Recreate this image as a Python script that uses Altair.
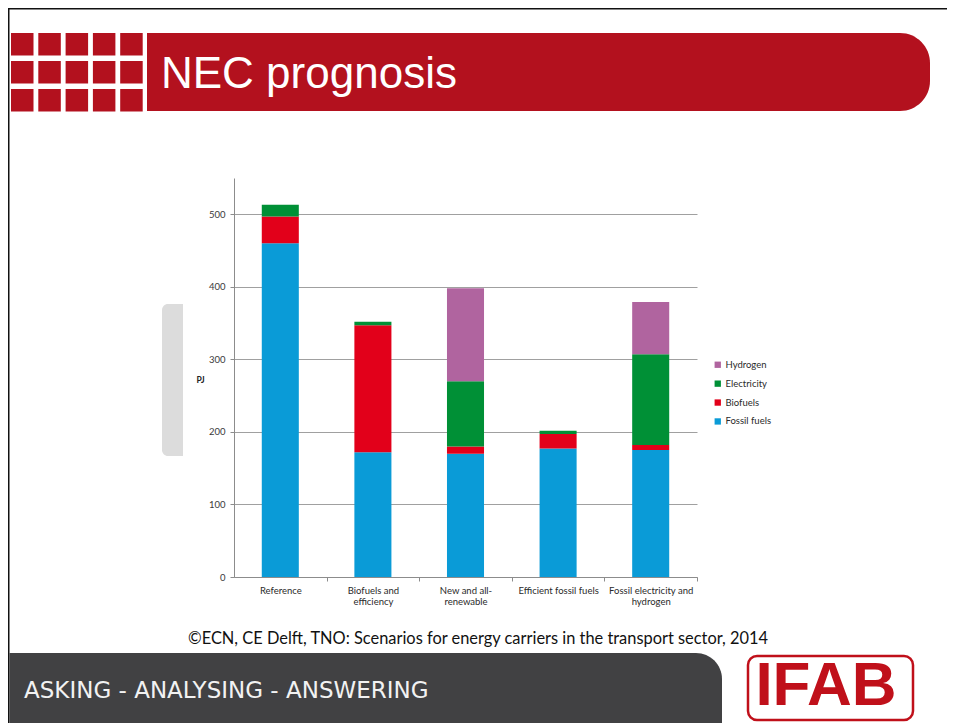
import altair as alt
import pandas as pd

# ---------------- data ----------------
scenarios = ["Reference", "Biofuels and efficiency", "New and all-renewable",
             "Efficient fossil fuels", "Fossil electricity and hydrogen"]
scenario_lines = [["Reference"], ["Biofuels and", "efficiency"], ["New and all-", "renewable"],
                  ["Efficient fossil fuels"], ["Fossil electricity and", "hydrogen"]]
carriers = ["Fossil fuels", "Biofuels", "Electricity", "Hydrogen"]
fossil = [460, 172, 170, 177, 175]
biofuels = [37, 175, 10, 20, 7]
electricity = [16, 5, 90, 4.5, 125]
hydrogen = [0, 0, 128, 0, 72]
colors = {"Hydrogen": "#b0649f", "Electricity": "#009036",
          "Biofuels": "#e2001a", "Fossil fuels": "#0a9bd7"}
legend_order = ["Hydrogen", "Electricity", "Biofuels", "Fossil fuels"]

series = {"Fossil fuels": fossil, "Biofuels": biofuels,
          "Electricity": electricity, "Hydrogen": hydrogen}
rows = []
for ci, c in enumerate(carriers):
    for si, s in enumerate(scenarios):
        rows.append({"scenario": s, "carrier": c, "value": series[c][si], "rank": ci})
df = pd.DataFrame(rows)

# ---------------- layout helpers (page pixel -> plot-local) ----------------
OX, OY = 234, 178          # page position of plot origin
W, H = 463, 399            # plot area
PAD_L, PAD_T = OX - 8, OY - 8
TOTAL_W, TOTAL_H = 939, 715
one = pd.DataFrame({"k": [0]})


def rect(x1, y1, x2, y2, **kw):
    return alt.Chart(one).mark_rect(**kw).encode(
        x=alt.value(x1 - OX), x2=alt.value(x2 - OX),
        y=alt.value(y1 - OY), y2=alt.value(y2 - OY))


def text(t, x, y, **kw):
    return alt.Chart(one).mark_text(text=t, **kw).encode(
        x=alt.value(x - OX), y=alt.value(y - OY))


RED = "#b3111e"
deco = []
# frame lines
deco.append(rect(8, 8, 955, 9.5, color="#111111"))
deco.append(rect(8, 8, 9.5, 723, color="#111111"))
# header squares
for r in range(3):
    for c in range(5):
        x0 = 11 + c * 27.3
        y0 = 33 + r * 28
        deco.append(rect(x0, y0, x0 + 22.5, y0 + 22.5, color=RED))
# header band
deco.append(rect(147, 33, 930, 111, color=RED,
                 cornerRadiusTopRight=30, cornerRadiusBottomRight=30))
deco.append(text("NEC prognosis", 161, 88, align="left", baseline="alphabetic",
                 fontSize=44, font="Liberation Sans", color="white"))
# grey side tab
deco.append(rect(162, 304, 183, 456, color="#dcdcdc",
                 cornerRadiusTopLeft=6, cornerRadiusBottomLeft=6))
# citation
deco.append(text("©ECN, CE Delft, TNO: Scenarios for energy carriers in the transport sector, 2014",
                 478, 644, align="center", baseline="alphabetic",
                 fontSize=16.4, font="Lato", color="#111111"))
# footer
deco.append(rect(9.5, 653, 722, 723, color="#414143", cornerRadiusTopRight=26))
deco.append(text("ASKING - ANALYSING - ANSWERING", 24, 698, align="left", baseline="alphabetic",
                 fontSize=23, font="DejaVu Sans", color="#f2f2f2"))
# logo
deco.append(rect(748, 656, 913, 720, fill="white", stroke="#c0101a",
                 strokeWidth=2.5, cornerRadius=9))
deco.append(text("IFAB", 826, 705, align="center", baseline="alphabetic",
                 fontSize=62, font="Liberation Sans", fontWeight="bold", color="#c0101a"))

# ---------------- chart ----------------
label_map = " : ".join(
    f"datum.label == '{s}' ? {lines!r}" for s, lines in zip(scenarios, scenario_lines)
) + " : datum.label"

step = W / len(scenarios)
FONT = "Lato"
SMALL = 9.5

bars = alt.Chart(df).transform_filter("datum.value > 0").mark_bar().encode(
    x=alt.X("scenario:N", sort=scenarios,
            scale=alt.Scale(paddingInner=0.6, paddingOuter=0.3),
            axis=alt.Axis(title=None, labelAngle=0, labelFontSize=SMALL, labelColor="#2a2a2a",
                          labelFont=FONT, domainColor="#8c8c8c", tickColor="#8c8c8c",
                          tickSize=4, tickOffset=step / 2, labelOffset=-step / 2,
                          labelExpr=label_map, labelLineHeight=11.5, labelPadding=4,
                          labelBaseline="top", grid=False)),
    y=alt.Y("value:Q", stack="zero",
            scale=alt.Scale(domain=[0, 550], nice=False),
            axis=alt.Axis(title="PJ", titleAngle=0, titleFontWeight="bold", titleFontSize=8.5,
                          titleFont=FONT, titleColor="#222222", titleX=-34, titleY=201,
                          titleAlign="center", titleBaseline="middle",
                          values=[0, 100, 200, 300, 400, 500], labelFontSize=SMALL,
                          labelFont=FONT, labelColor="#3a3a3a", labelPadding=5,
                          domainColor="#8c8c8c", tickColor="#8c8c8c", tickSize=4,
                          grid=True, gridColor="#a0a0a0", gridWidth=1)),
    color=alt.Color("carrier:N",
                    scale=alt.Scale(domain=legend_order,
                                    range=[colors[c] for c in legend_order]),
                    legend=alt.Legend(title=None, orient="none", legendX=479, legendY=182,
                                      symbolType="square", symbolSize=40, symbolStrokeWidth=0,
                                      labelFontSize=SMALL, labelFont=FONT, labelColor="#2a2a2a",
                                      rowPadding=7.9, labelOffset=3, padding=0)),
    order=alt.Order("rank:Q", sort="ascending"),
)

chart = alt.layer(*deco, bars).properties(
    width=W, height=H,
    padding={"left": PAD_L, "top": PAD_T,
             "right": TOTAL_W - PAD_L - W, "bottom": TOTAL_H - PAD_T - H},
    autosize=alt.AutoSizeParams(type="none"),
).configure_view(strokeWidth=0)

chart.save("out.html", embed_options={"renderer": "svg", "actions": False})
